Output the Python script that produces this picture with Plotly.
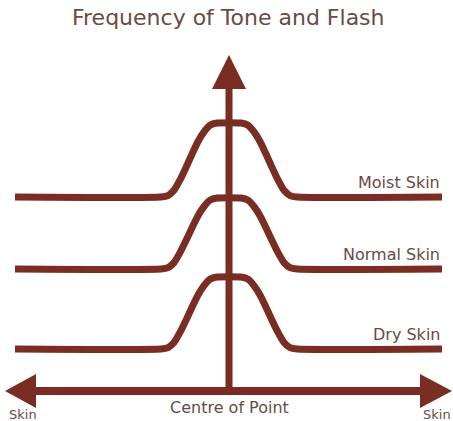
import plotly.graph_objects as go

# ---- data ----
skin_types = ["Moist Skin", "Normal Skin", "Dry Skin"]
baseline_levels = [224, 152, 72]      # resting frequency level of each curve
peak_heights = [74, 71, 72]           # rise of the curve at the centre of the point
centre_position = 229
profile_offsets = [-214, -68, -61, -55, -49, -43, -37, -31, -25, -19, -12,
                   12, 19, 25, 31, 37, 43, 49, 55, 61, 68, 213]
profile_shape = [0, 0, 0.02, 0.09, 0.23, 0.4, 0.58, 0.75, 0.88, 0.97, 1,
                 1, 0.97, 0.88, 0.75, 0.58, 0.4, 0.23, 0.09, 0.02, 0, 0]

title_text = "Frequency of Tone and Flash"
x_axis_label = "Centre of Point"
x_end_labels = ["Skin", "Skin"]

# ---- styles ----
LINE = "#7a2d22"
TEXT = "#6b4a44"
FONT = "DejaVu Sans"
W, H = 453, 421

fig = go.Figure()

for name, base, peak in zip(skin_types, baseline_levels, peak_heights):
    xs = [centre_position + o for o in profile_offsets]
    ys = [base + peak * s for s in profile_shape]
    fig.add_trace(go.Scatter(
        x=xs, y=ys, mode="lines", name=name,
        line=dict(color=LINE, width=7, shape="spline", smoothing=0.5),
        hoverinfo="skip", showlegend=False,
    ))
    fig.add_annotation(x=442, y=base + 15, text=name, showarrow=False,
                       xanchor="right", yanchor="middle",
                       font=dict(family=FONT, size=16, color=TEXT))

# axes drawn as arrows
axis_y = 30
shapes = [
    dict(type="line", x0=30, x1=425, y0=axis_y, y1=axis_y,
         line=dict(color=LINE, width=8)),
    dict(type="path", path=f"M 5,{axis_y} L 36,{axis_y+17} L 36,{axis_y-17} Z",
         fillcolor=LINE, line=dict(color=LINE, width=0)),
    dict(type="path", path=f"M 452,{axis_y} L 420,{axis_y+17} L 420,{axis_y-17} Z",
         fillcolor=LINE, line=dict(color=LINE, width=0)),
    dict(type="line", x0=centre_position, x1=centre_position, y0=axis_y, y1=336,
         line=dict(color=LINE, width=7)),
    dict(type="path",
         path=f"M {centre_position},366 L {centre_position-17},332 L {centre_position+17},332 Z",
         fillcolor=LINE, line=dict(color=LINE, width=0)),
]
for s in shapes:
    s.update(xref="x", yref="y", layer="above")

fig.add_annotation(x=228, y=404, text=title_text, showarrow=False,
                   xanchor="center", yanchor="middle",
                   font=dict(family=FONT, size=22, color=TEXT))
fig.add_annotation(x=centre_position, y=14, text=x_axis_label, showarrow=False,
                   xanchor="center", yanchor="middle",
                   font=dict(family=FONT, size=16, color=TEXT))
fig.add_annotation(x=23, y=7, text=x_end_labels[0], showarrow=False,
                   xanchor="center", yanchor="middle",
                   font=dict(family=FONT, size=13, color=TEXT))
fig.add_annotation(x=437, y=7, text=x_end_labels[1], showarrow=False,
                   xanchor="center", yanchor="middle",
                   font=dict(family=FONT, size=13, color=TEXT))

fig.update_layout(
    width=W, height=H,
    margin=dict(l=0, r=0, t=0, b=0),
    paper_bgcolor="white", plot_bgcolor="white",
    shapes=shapes,
    xaxis=dict(range=[0, W], visible=False, fixedrange=True),
    yaxis=dict(range=[0, H], visible=False, fixedrange=True),
)

fig.write_html("out.html", config={"displayModeBar": False},
               post_script="document.body.style.margin='0';document.body.style.overflow='hidden';")
